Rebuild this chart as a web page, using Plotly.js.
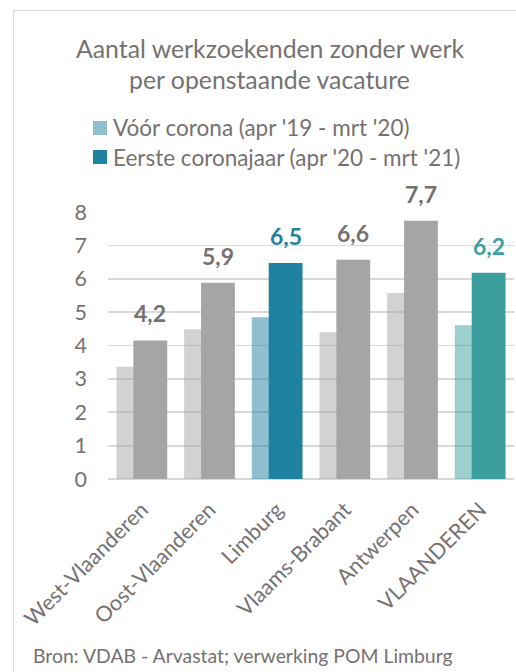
<!DOCTYPE html>
<html>
<head>
<meta charset="utf-8">
<script src="https://cdn.plot.ly/plotly-3.0.1.min.js"></script>
<style>
    body { margin: 0; background: #fff; }
    #chart { position: absolute; left: 0; top: 0; width: 516px; height: 672px; }
    #frame { position: absolute; left: 13px; top: 10px; right: 0; bottom: 0;
             border-left: 1.5px solid #d9d9d9; border-top: 1.5px solid #d9d9d9; pointer-events: none; }
</style>
</head>
<body>
<div id="chart"></div>
<div id="frame"></div>
<script>
var categories = ['West-Vlaanderen', 'Oost-Vlaanderen', 'Limburg', 'Vlaams-Brabant', 'Antwerpen', 'VLAANDEREN'];
var voorCorona = [3.36, 4.49, 4.85, 4.40, 5.57, 4.61];
var eersteCoronajaar = [4.15, 5.88, 6.47, 6.57, 7.74, 6.18];
var seriesNames = ["Vóór corona (apr '19 - mrt '20)", "Eerste coronajaar (apr '20 - mrt '21)"];
var titleLines = ['Aantal werkzoekenden zonder werk', 'per openstaande vacature'];
var sourceText = 'Bron: VDAB - Arvastat; verwerking POM Limburg';

// styling
var grey = '#a5a5a5';
var barColors = [grey, grey, '#1f82a0', grey, grey, '#3d9e9e'];
var labelColors = ['#767171', '#767171', '#1f82a0', '#767171', '#767171', '#3d9e9e'];
var textColor = '#767171';
var fontFamily = 'Lato, "Open Sans", sans-serif';

// plot area in pixels
var L = 108, R = 514, T = 212, B = 479;
function px(x) { return (x - L) / (R - L); }
function py(y) { return (B - y) / (B - T); }

var traces = [
    {
        type: 'bar', x: categories, y: voorCorona, name: seriesNames[0],
        width: 0.5, offset: -0.375,
        marker: {color: barColors, opacity: 0.5},
        showlegend: false, hoverinfo: 'skip'
    },
    {
        type: 'bar', x: categories, y: eersteCoronajaar, name: seriesNames[1],
        width: 0.5, offset: -0.125,
        marker: {color: barColors},
        showlegend: false, hoverinfo: 'skip'
    }
];

var annotations = [];
for (var i = 0; i < categories.length; i++) {
    annotations.push({
        x: categories[i], y: eersteCoronajaar[i], xref: 'x', yref: 'y',
        text: '<b>' + eersteCoronajaar[i].toFixed(1).replace('.', ',') + '</b>',
        showarrow: false, xanchor: 'center', yanchor: 'bottom', xshift: 8.5, yshift: 11,
        font: {family: fontFamily, size: 23, color: labelColors[i]}
    });
}
annotations.push(
    {xref: 'paper', yref: 'paper', x: px(269.5), y: py(48), text: titleLines[0], showarrow: false,
        xanchor: 'center', yanchor: 'middle', font: {family: fontFamily, size: 24.8, color: textColor}},
    {xref: 'paper', yref: 'paper', x: px(269.5), y: py(80), text: titleLines[1], showarrow: false,
        xanchor: 'center', yanchor: 'middle', font: {family: fontFamily, size: 24.8, color: textColor}},
    {xref: 'paper', yref: 'paper', x: px(111), y: py(128), text: seriesNames[0], showarrow: false,
        xanchor: 'left', yanchor: 'middle', font: {family: fontFamily, size: 22.5, color: textColor}},
    {xref: 'paper', yref: 'paper', x: px(111), y: py(157), text: seriesNames[1], showarrow: false,
        xanchor: 'left', yanchor: 'middle', font: {family: fontFamily, size: 22.5, color: textColor}},
    {xref: 'paper', yref: 'paper', x: px(31), y: py(655), text: sourceText, showarrow: false,
        xanchor: 'left', yanchor: 'middle', font: {family: fontFamily, size: 19.4, color: textColor}}
);

var shapes = [
    {type: 'rect', xref: 'paper', yref: 'paper', x0: px(93), x1: px(107), y0: py(121), y1: py(135),
        line: {width: 0}, fillcolor: '#8fc0cf'},
    {type: 'rect', xref: 'paper', yref: 'paper', x0: px(93), x1: px(107), y0: py(150), y1: py(164),
        line: {width: 0}, fillcolor: '#1f82a0'}
];

var layout = {
    width: 516, height: 672,
    margin: {l: L, r: 516 - R, t: T, b: 672 - B, pad: 0},
    paper_bgcolor: '#ffffff', plot_bgcolor: '#ffffff',
    barmode: 'overlay',
    showlegend: false,
    font: {family: fontFamily, color: textColor},
    xaxis: {
        type: 'category', categories: categories,
        tickangle: -45, ticks: '', showgrid: false, showline: false, zeroline: false,
        ticklabelstandoff: 13,
        tickfont: {family: fontFamily, size: 21.5, color: textColor}
    },
    yaxis: {
        range: [0, 8], dtick: 1, ticks: '', showline: false,
        gridcolor: '#d9d9d9', gridwidth: 1.75,
        zeroline: true, zerolinecolor: '#d9d9d9', zerolinewidth: 1.75,
        ticklabelstandoff: 20,
        tickfont: {family: fontFamily, size: 21.5, color: textColor}
    },
    annotations: annotations,
    shapes: shapes
};

Plotly.newPlot('chart', traces, layout, {displayModeBar: false, staticPlot: true});
</script>
</body>
</html>
